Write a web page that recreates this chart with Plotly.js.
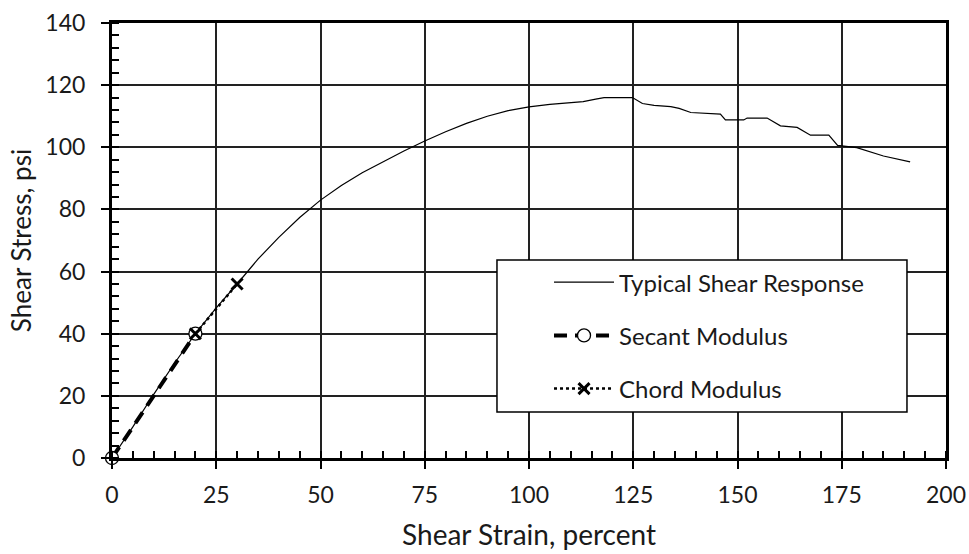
<!DOCTYPE html>
<html>
<head>
<meta charset="utf-8">
<script src="https://cdn.plot.ly/plotly-3.0.1.min.js"></script>
<style>html,body{margin:0;padding:0;background:#fff;}#chart{width:969px;height:554px;}</style>
</head>
<body>
<div id="chart"></div>
<script>
// Typical shear response curve (strain %, stress psi)
const strain = [0, 5, 10, 15, 20, 25, 30, 35, 40, 45, 50, 55, 60, 65, 70, 75, 80, 85, 90, 95, 100, 105, 110, 113, 116, 118, 124.8, 127.2, 130, 134, 136, 138.8, 145.9, 147.1, 151.5, 152.3, 157.1, 160.3, 164.3, 167.5, 171.9, 174, 178.6, 185, 191.4];
const stress = [0, 10, 20.5, 30.5, 40, 48.3, 56, 64, 71, 77.4, 83, 87.7, 91.8, 95.4, 98.8, 102, 105, 107.7, 110, 111.8, 113, 113.8, 114.4, 114.7, 115.5, 116, 116, 114.1, 113.5, 113.1, 112.5, 111.2, 110.7, 108.8, 108.8, 109.4, 109.4, 106.9, 106.4, 103.9, 103.9, 100.6, 99.9, 97.2, 95.3];
// Secant modulus points
const secantStrain = [0, 20];
const secantStress = [0, 40];
// Chord modulus points
const chordStrain = [20, 30];
const chordStress = [40, 56];
// Axis ticks
const xTicks = [0, 25, 50, 75, 100, 125, 150, 175, 200];
const yTicks = [0, 20, 40, 60, 80, 100, 120, 140];

const FONT = 'Lato, "Open Sans", sans-serif';
const TXT = '#1a1a1a';

const traces = [
  {x: strain, y: stress, mode: 'lines', name: 'Typical Shear Response', legendgroup: 'a',
   line: {color: '#000', width: 1.2}},
  {x: secantStrain, y: secantStress, mode: 'lines+markers', name: 'Secant Modulus', legendgroup: 'b',
   line: {color: '#000', width: 4, dash: '13px,8px'}, cliponaxis: false,
   marker: {symbol: 'circle', size: 13, color: '#fff', line: {width: 1.3, color: '#000'}}},
  {x: chordStrain, y: chordStress, mode: 'lines+markers', name: 'Chord Modulus', legendgroup: 'c',
   line: {color: '#000', width: 2.5, dash: 'dot'}, cliponaxis: false,
   marker: {symbol: 'x-thin-open', size: 11, color: '#000', line: {width: 3, color: '#000'}}}
];

const layout = {
  width: 969, height: 554,
  margin: {l: 112, r: 23, t: 23, b: 96},
  paper_bgcolor: '#fff', plot_bgcolor: '#fff',
  font: {family: FONT, color: TXT, size: 22},
  showlegend: true,
  legend: {
    x: 0.524, y: 0.455, xanchor: 'left', yanchor: 'top',
    bgcolor: 'rgba(0,0,0,0)', borderwidth: 0,
    font: {family: FONT, size: 24, color: TXT},
    itemwidth: 60, tracegroupgap: 19
  },
  xaxis: {
    range: [0, 200], tickvals: xTicks, ticktext: xTicks.map(String),
    showgrid: true, gridcolor: '#222', gridwidth: 2,
    zeroline: false, showline: true, linecolor: '#000', linewidth: 3, mirror: true,
    ticks: 'outside', ticklen: 8, tickwidth: 2, tickcolor: '#000',
    ticklabelstandoff: 6,
    tickfont: {family: FONT, size: 23, color: TXT},
    minor: {dtick: 5, ticks: 'inside', ticklen: 7, tickwidth: 2, tickcolor: '#000', showgrid: false},
    title: {text: 'Shear Strain, percent', font: {family: FONT, size: 28, color: TXT}, standoff: 19}
  },
  yaxis: {
    range: [0, 140], tickvals: yTicks, ticktext: yTicks.map(String),
    showgrid: true, gridcolor: '#222', gridwidth: 2,
    zeroline: false, showline: true, linecolor: '#000', linewidth: 3, mirror: true,
    ticks: 'outside', ticklen: 8, tickwidth: 2, tickcolor: '#000',
    ticklabelstandoff: 11,
    tickfont: {family: FONT, size: 23, color: TXT},
    minor: {dtick: 4, ticks: 'inside', ticklen: 7, tickwidth: 2, tickcolor: '#000', showgrid: false},
    title: {text: 'Shear Stress, psi', font: {family: FONT, size: 26, color: TXT}, standoff: 7}
  },
  shapes: [
    {type: 'rect', xref: 'paper', yref: 'paper', x0: 0.4616, x1: 0.9532, y0: 0.1057, y1: 0.4552,
     line: {color: '#000', width: 1.5}, fillcolor: '#fff', layer: 'above'}
  ]
};

Plotly.newPlot('chart', traces, layout, {displayModeBar: false, staticPlot: true});
</script>
</body>
</html>
